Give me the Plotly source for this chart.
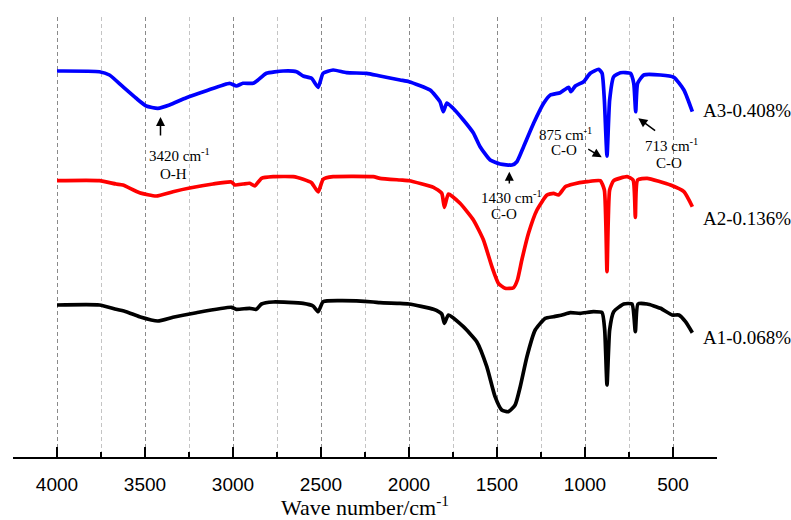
import plotly.graph_objects as go

# Wavenumber (cm^-1) and transmittance-like readings (arbitrary units, axis drawn downward)
wn_a3 = [4000, 3759, 3702, 3626, 3550, 3493, 3427, 3361, 3265, 3151, 3019, 2981, 2943, 2886, 2858, 2810,
         2715, 2639, 2601, 2554, 2516, 2488, 2431, 2355, 2241, 2165, 2051, 2000, 1880, 1824, 1805, 1785,
         1751, 1691, 1634, 1596, 1539, 1482, 1415, 1387, 1349, 1292, 1235, 1197, 1141, 1093, 1080, 1055,
         1008, 970, 922, 903, 890, 875, 860, 837, 799, 742, 723, 712, 701, 666, 571, 495, 438, 390]
val_a3 = [71, 71.7, 75, 86.7, 98.3, 106, 108.3, 105, 97.7, 90.7, 83.3, 86, 83.3, 83.3, 80, 73.3,
          71, 71.7, 76, 78.3, 87.3, 73.3, 70, 72.7, 73.3, 76, 80, 81.7, 90, 101.7, 111.7, 103,
          108, 120, 133, 146.7, 160, 164, 165, 161.7, 146.7, 123.3, 103.3, 95, 92.7, 87.3, 91.7, 86,
          81.7, 73.3, 69.3, 73.3, 100, 156, 100, 76.7, 72.7, 73.3, 83.3, 111.7, 83.3, 75, 75, 77.3, 90, 111.7]

wn_a2 = [4000, 3759, 3664, 3626, 3531, 3436, 3341, 3246, 3114, 3009, 2990, 2943, 2905, 2876, 2838, 2772,
         2658, 2601, 2554, 2516, 2488, 2431, 2203, 2165, 2051, 2000, 1861, 1814, 1799, 1776, 1710, 1634,
         1577, 1529, 1492, 1454, 1406, 1384, 1359, 1321, 1273, 1216, 1179, 1150, 1112, 1065, 989, 913,
         890, 875, 860, 837, 761, 727, 714, 701, 647, 514, 438, 390]
val_a2 = [180.7, 180.7, 184, 185, 192.7, 196, 191.7, 188, 184, 182, 185, 184, 183.3, 186, 178.3, 176.7,
          176.7, 179.3, 182.7, 192, 179.3, 176.7, 176.7, 178.3, 180, 180.7, 187.3, 193.3, 207.3, 194, 203.3, 220,
          240, 266.7, 283.3, 288.3, 287.7, 280, 260, 233.3, 210, 195, 193.3, 195, 186.7, 184, 181.7, 180.7,
          190, 271.7, 190, 180.7, 176.7, 180, 217.3, 180, 178.3, 185, 191.7, 206.7]

wn_a1 = [4000, 3759, 3664, 3607, 3531, 3427, 3341, 3208, 3009, 2981, 2905, 2867, 2838, 2772, 2601, 2545,
         2516, 2488, 2393, 2203, 2165, 2051, 2000, 1861, 1814, 1799, 1776, 1691, 1615, 1558, 1511, 1473,
         1435, 1397, 1368, 1330, 1283, 1226, 1179, 1131, 1084, 1027, 951, 903, 888, 875, 860, 837,
         780, 733, 714, 699, 647, 571, 505, 467, 429, 390]
val_a1 = [305, 305, 309.3, 311.7, 316.7, 321, 317.3, 312.7, 307.3, 309.3, 308.3, 309.3, 304, 302, 303.3, 306,
          311.7, 301.7, 300.7, 302, 302.7, 303.3, 304, 309.3, 314, 323.3, 315, 326.7, 341.7, 366.7, 396.7, 410,
          411.7, 405, 386.7, 356.7, 330, 318.3, 316.7, 315, 312.7, 313.3, 311.7, 312.7, 330, 385, 330, 311.7,
          304, 304, 331.7, 304, 304, 308.3, 315, 315, 321.7, 332.7]

series_names = ["A3-0.408%", "A2-0.136%", "A1-0.068%"]
series_colors = ["#0000FF", "#FF0000", "#000000"]
tick_vals = [4000, 3500, 3000, 2500, 2000, 1500, 1000, 500]

SERIF = "Liberation Serif, Times New Roman, serif"
SANS = "Liberation Sans, Arial, sans-serif"

fig = go.Figure()
for wn, val, name, col in zip([wn_a3, wn_a2, wn_a1], [val_a3, val_a2, val_a1], series_names, series_colors):
    fig.add_trace(go.Scatter(x=wn, y=val, mode="lines", name=name,
                             line=dict(color=col, width=3.7, shape="spline", smoothing=0.5)))

annotations = []
# series labels at right
for name, yv in zip(series_names, [110, 218, 337]):
    annotations.append(dict(x=341, y=yv, xref="x", yref="y", text=name, showarrow=False,
                            xanchor="left", yanchor="middle", font=dict(family=SERIF, size=19, color="black")))

# peak annotations: (text, text_x, text_y, label, label_x, label_y, head_x, head_y, tail_x, tail_y)
peaks = [
    ("3420 cm<sup>-1</sup>", 3306, 155, "O-H", 3337, 174, 3412, 117, 3412, 137),
    ("1430 cm<sup>-1</sup>", 1416, 197, "C-O", 1460, 214, 1430, 171.7, 1430, 185),
    ("875 cm<sup>-1</sup>", 1111, 134, "C-O", 1119, 150, 905, 157.3, 990, 148.3),
    ("713 cm<sup>-1</sup>", 511, 145, "C-O", 522, 163, 697, 118.3, 593, 131.7),
]
for t, tx, ty, lab, lx, ly, hx, hy, ax_, ay_ in peaks:
    annotations.append(dict(x=tx, y=ty, xref="x", yref="y", text=t, showarrow=False,
                            font=dict(family=SERIF, size=15, color="black")))
    annotations.append(dict(x=lx, y=ly, xref="x", yref="y", text=lab, showarrow=False,
                            font=dict(family=SERIF, size=15, color="black")))
    annotations.append(dict(x=hx, y=hy, xref="x", yref="y", ax=ax_, ay=ay_, axref="x", ayref="y",
                            text="", showarrow=True, arrowhead=2, arrowsize=1.2, arrowwidth=1.5,
                            arrowcolor="black"))

fig.update_layout(
    width=791, height=520,
    margin=dict(l=13, r=74, t=17, b=63),
    paper_bgcolor="white", plot_bgcolor="white",
    showlegend=False,
    annotations=annotations,
    xaxis=dict(
        range=[4250, 250],
        automargin=False,
        tickmode="array", tickvals=tick_vals, ticktext=[str(v) for v in tick_vals],
        ticks="inside", ticklen=10, tickwidth=1.5, tickcolor="black",
        ticklabelstandoff=9,
        showline=True, linewidth=2, linecolor="black",
        showgrid=True, gridcolor="#8a8a8a", gridwidth=1, griddash="4px,3px",
        zeroline=False,
        tickfont=dict(family=SANS, size=19, color="black"),
        title=dict(text="Wave number/cm<sup>-1</sup>", font=dict(family=SERIF, size=22, color="black"),
                   standoff=12),
        minor=dict(tickmode="linear", tick0=250, dtick=250, ticks="inside", ticklen=5, tickwidth=1.5,
                   tickcolor="black", showgrid=True, gridcolor="#c4c4c4", gridwidth=1, griddash="4px,3px"),
    ),
    yaxis=dict(range=[457, 17], visible=False, showgrid=False, zeroline=False),
)

fig.write_html("out.html")
